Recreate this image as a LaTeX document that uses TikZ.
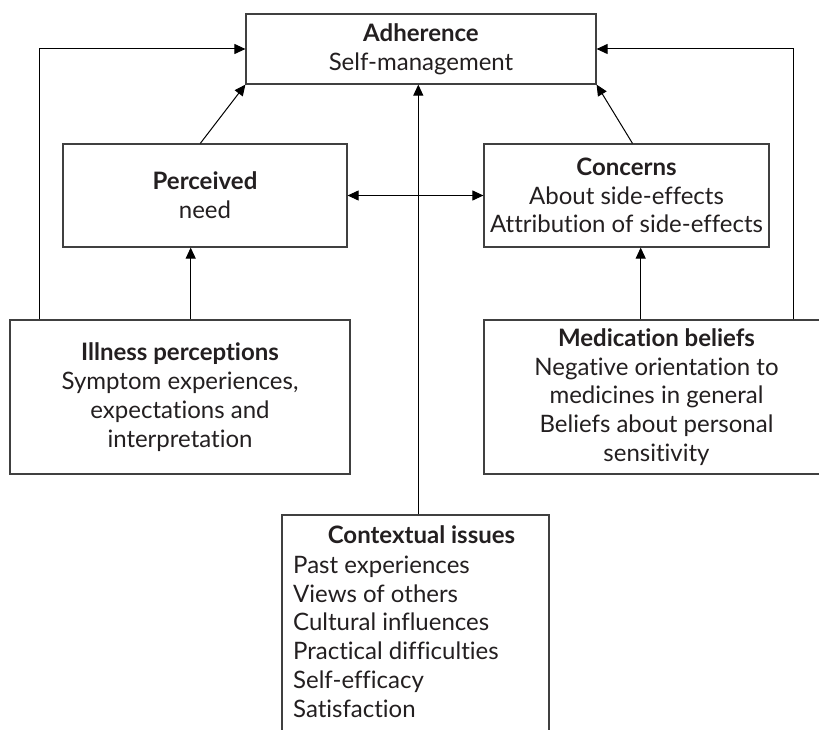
\documentclass[tikz,border=0pt]{standalone}
\usepackage{fontspec}
\setmainfont{Lato}[Ligatures=NoCommon]
\usetikzlibrary{arrows.meta}
\definecolor{ink}{HTML}{231F20}
\definecolor{edge}{HTML}{404040}
\begin{document}
\begin{tikzpicture}[x=1pt,y=-1pt,
  txt/.style={inner sep=0pt,text=ink,font=\fontsize{24}{28.8}\selectfont},
  box/.style={txt,draw=edge,line width=1.2pt,rectangle,align=center},
  tip/.tip={Triangle[length=11pt,width=10pt]},
  arr/.style={draw=black,line width=1pt,-tip},
  darr/.style={draw=black,line width=1pt,tip-tip}]
\useasboundingbox (0,0) rectangle (819,730);
\clip (0,0) rectangle (819,730);
\fill[white] (0,0) rectangle (819,730);
\node[box,minimum width=350pt,minimum height=70pt] (adh) at (421,49) {\textbf{Adherence}\\Self-management};
\node[box,minimum width=284pt,minimum height=103pt] (per) at (205,195.5) {\textbf{Perceived}\\need};
\node[box,minimum width=285pt,minimum height=103pt] (con) at (626.5,195.5) {\textbf{Concerns}\\About side-effects\\Attribution of side-effects};
\node[box,minimum width=340pt,minimum height=154pt] (ill) at (180,397) {\textbf{Illness perceptions}\\Symptom experiences,\\expectations and\\interpretation};
\node[box,minimum width=345pt,minimum height=154pt] (med) at (656.5,397) {\textbf{Medication beliefs}\\Negative orientation to\\medicines in general\\Beliefs about personal\\sensitivity};
\node[box,minimum width=267pt,minimum height=230pt] (ctx) at (415.5,630) {};
\node[txt] (ctxt) at (421.5,534.5) {\textbf{Contextual issues}};
\node[txt,align=left,anchor=north west] (ctxl) at (293,555.6) {Past experiences\\Views of others\\Cultural influences\\Practical difficulties\\Self-efficacy\\Satisfaction};
\coordinate (oL) at (39.3,0);
\coordinate (cL) at (190.7,0);
\coordinate (cM) at (418.3,0);
\coordinate (cR) at (640.7,0);
\coordinate (oR) at (793.3,0);
\draw[arr] (ill.north -| oL) |- (adh.west);
\draw[arr] (ill.north -| cL) -- (per.south -| cL);
\draw[arr] ([xshift=-4.7pt]per.north) -- (adh.south west);
\draw[arr] ([xshift=6pt]con.north) -- (adh.south east);
\draw[arr] (med.north -| cR) -- (con.south -| cR);
\draw[arr] (med.north -| oR) |- (adh.east);
\draw[darr] (per.east) -- (con.west);
\draw[arr] (ctx.north -| cM) -- (adh.south -| cM);
\end{tikzpicture}
\end{document}
